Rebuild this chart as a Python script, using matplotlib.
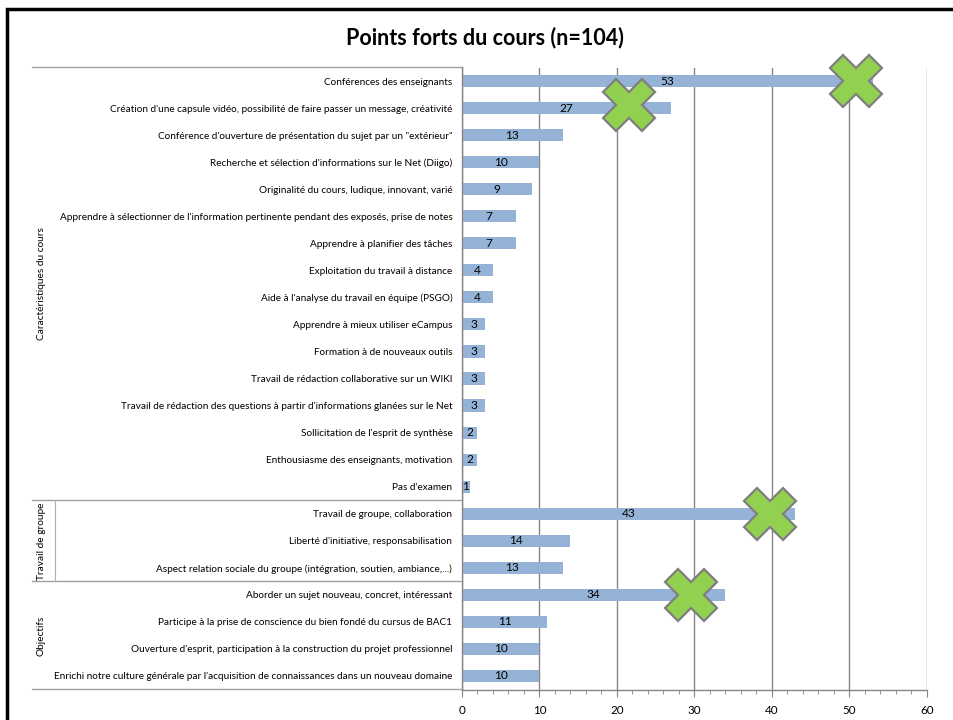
import matplotlib
matplotlib.use("Agg")
import matplotlib.pyplot as plt
import matplotlib.transforms as mtransforms
from matplotlib.patches import Rectangle
from matplotlib.ticker import MultipleLocator

plt.rcParams['font.family'] = ['Lato', 'DejaVu Sans']

title = "Points forts du cours (n=104)"

categories = [
    "Conférences des enseignants",
    "Création d'une capsule vidéo, possibilité de faire passer un message, créativité",
    "Conférence d'ouverture de présentation du sujet par un \"extérieur\"",
    "Recherche et sélection d'informations sur le Net (Diigo)",
    "Originalité du cours, ludique, innovant, varié",
    "Apprendre à sélectionner de l'information pertinente pendant des exposés, prise de notes",
    "Apprendre à planifier des tâches",
    "Exploitation du travail à distance",
    "Aide à l'analyse du travail en équipe (PSGO)",
    "Apprendre à mieux utiliser eCampus",
    "Formation à de nouveaux outils",
    "Travail de rédaction collaborative sur un WIKI",
    "Travail de rédaction des questions à partir d'informations glanées sur le Net",
    "Sollicitation de l'esprit de synthèse",
    "Enthousiasme des enseignants, motivation",
    "Pas d'examen",
    "Travail de groupe, collaboration",
    "Liberté d'initiative, responsabilisation",
    "Aspect relation sociale du groupe (intégration, soutien, ambiance,...)",
    "Aborder un sujet nouveau, concret, intéressant",
    "Participe à la prise de conscience du bien fondé du cursus de BAC1",
    "Ouverture d'esprit, participation à la construction du projet professionnel",
    "Enrichi notre culture générale par l'acquisition de connaissances dans un nouveau domaine",
]
values = [53, 27, 13, 10, 9, 7, 7, 4, 4, 3, 3, 3, 3, 2, 2, 1, 43, 14, 13, 34, 11, 10, 10]

groups = ["Caractéristiques du cours", "Travail de groupe", "Objectifs"]
group_sizes = [16, 3, 4]

# green cross marks (x value, category position)
cross_x = [50.8, 21.5, 39.7, 29.6]
cross_y = [0, 0.9, 16, 19]

xticks = [0, 10, 20, 30, 40, 50, 60]

W, H = 954, 720
fig = plt.figure(figsize=(W / 100, H / 100), dpi=100)
ax = fig.add_axes([462 / W, 1 - 689.5 / H, (927 - 462) / W, (689.5 - 67.5) / H])

n = len(categories)
y = list(range(n))
ax.barh(y, values, height=0.45, color="#95B3D7", zorder=2)
for yi, v in zip(y, values):
    ax.text(v / 2, yi, str(v), ha="center", va="center", fontsize=8.6, color="black", zorder=3)

ax.plot(cross_x, cross_y, linestyle="none", marker="X", markersize=37,
        markerfacecolor="#92D050", markeredgecolor="#7F7F7F", markeredgewidth=1.6, zorder=5,
        clip_on=False)

ax.set_xlim(0, 60)
ax.set_ylim(n - 0.5, -0.5)
ax.set_xticks(xticks)
ax.xaxis.set_minor_locator(MultipleLocator(2))
ax.tick_params(axis="x", which="major", direction="out", length=5, color="#868686", labelsize=8.4, pad=6)
ax.tick_params(axis="x", which="minor", direction="out", length=3, color="#868686")
ax.set_yticks(y)
ax.set_yticklabels(categories, fontsize=7.2)
ax.tick_params(axis="y", length=0, pad=7)
ax.grid(axis="x", color="#868686", linewidth=1.0, zorder=0)
ax.set_axisbelow(True)
for s in ["top", "right"]:
    ax.spines[s].set_visible(False)
for s in ["left", "bottom"]:
    ax.spines[s].set_color("#868686")
    ax.spines[s].set_linewidth(1.0)
    ax.spines[s].set_zorder(4)

# group separators and labels
trans = mtransforms.blended_transform_factory(ax.transAxes, ax.transData)
x_left = (32 - 462) / (927 - 462)
x_vline = (55 - 462) / (927 - 462)
x_glabel = (41 - 462) / (927 - 462)
start = -0.5
bounds = [start]
for gs in group_sizes:
    bounds.append(bounds[-1] + gs)
for b in bounds:
    ax.plot([x_left, 0], [b, b], transform=trans, color="#A0A0A0", linewidth=1.0, clip_on=False)
# small vertical separator next to the second group
ax.plot([x_vline, x_vline], [bounds[1], bounds[2]], transform=trans, color="#B0B0B0",
        linewidth=0.8, clip_on=False)
for g, b0, b1 in zip(groups, bounds[:-1], bounds[1:]):
    ax.text(x_glabel, (b0 + b1) / 2, g, transform=trans, rotation=90, ha="center", va="center",
            fontsize=7.3, color="black")

fig.text(485 / W, 1 - 38 / H, title, ha="center", va="center", fontsize=15.5, fontweight="bold")

# outer frame (only top and left visible)
fig.patches.append(Rectangle((7 / W, -0.1), 1.2, 1 - 9 / H + 0.1, transform=fig.transFigure,
                             fill=False, edgecolor="black", linewidth=2.5))

fig.savefig("out.png", dpi=100)
